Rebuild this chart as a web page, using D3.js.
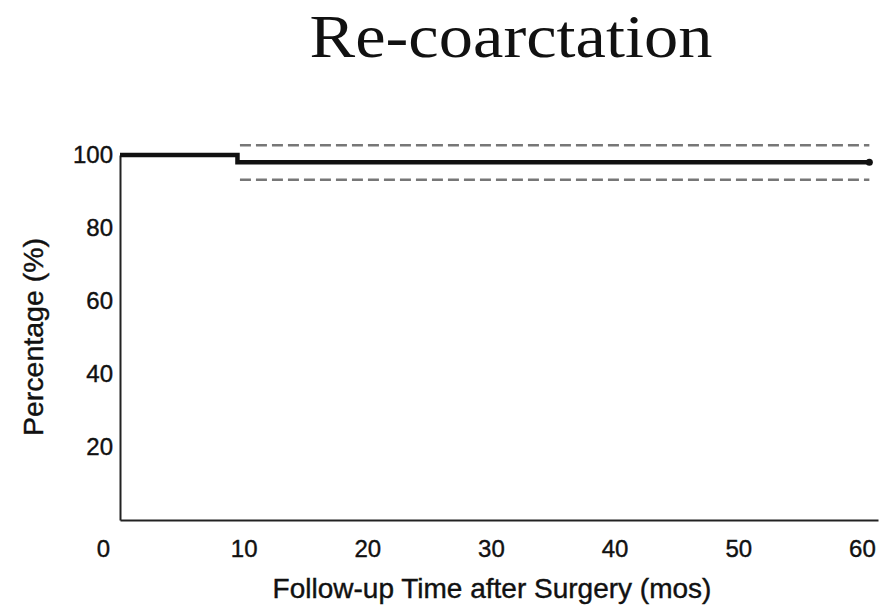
<!DOCTYPE html>
<html>
<head>
<meta charset="utf-8">
<title>Re-coarctation</title>
<script src="https://d3js.org/d3.v7.min.js"></script>
<style>
  body { margin: 0; background: #fff; }
  svg text { font-family: "Liberation Sans", Arial, sans-serif; fill: #111; }
  .lbl { stroke: #111; stroke-width: 0.4px; }
</style>
</head>
<body>
<div id="chart"></div>
<script>
// freedom from re-coarctation
var curveMonths = [0, 9.5, 60.6];
var curvePercent = [100, 98, 98];
var ciMonths = [9.7, 60.6];
var ciUpper = [102.7, 102.7];
var ciLower = [93.2, 93.2];
var xTicks = [0, 10, 20, 30, 40, 50, 60];
var yTicks = [20, 40, 60, 80, 100];

var width = 890, height = 610;

var svg = d3.select("#chart").append("svg")
    .attr("width", width)
    .attr("height", height);

var x = d3.scaleLinear().domain([0, 61.3]).range([120, 878]);
var y = d3.scaleLinear().domain([0, 100]).range([520, 155]);

// title
svg.append("text")
    .attr("x", 511)
    .attr("y", 57)
    .attr("text-anchor", "middle")
    .style("font-family", "'Liberation Serif', 'DejaVu Serif', serif")
    .style("font-size", "61px")
    .attr("textLength", 403)
    .attr("lengthAdjust", "spacingAndGlyphs")
    .text("Re-coarctation");

// axes
var xAxis = svg.append("g")
    .attr("transform", "translate(0," + y(0) + ")")
    .call(d3.axisBottom(x).tickValues(xTicks).tickSize(0).tickPadding(20));
xAxis.select(".domain").attr("stroke", "#222").attr("stroke-width", 2);
xAxis.selectAll(".tick text")
    .attr("class", "lbl")
    .style("font-size", "24px")
    .attr("dx", function(d) { return d === 0 ? -17 : 0; });

var yAxis = svg.append("g")
    .attr("transform", "translate(" + x(0) + ",0)")
    .call(d3.axisLeft(y).tickValues(yTicks).tickSize(0).tickPadding(7));
yAxis.select(".domain").attr("stroke", "#222").attr("stroke-width", 2);
yAxis.selectAll(".tick text")
    .attr("class", "lbl")
    .style("font-size", "24px");

// axis titles
svg.append("text")
    .attr("class", "lbl")
    .attr("x", 492)
    .attr("y", 598)
    .attr("text-anchor", "middle")
    .style("font-size", "28px")
    .text("Follow-up Time after Surgery (mos)");

svg.append("text")
    .attr("class", "lbl")
    .attr("transform", "translate(43,337) rotate(-90)")
    .attr("text-anchor", "middle")
    .style("font-size", "28px")
    .attr("textLength", 198)
    .attr("lengthAdjust", "spacingAndGlyphs")
    .text("Percentage (%)");

// confidence limits
var ciLine = d3.line()
    .x(function(d) { return x(d[0]); })
    .y(function(d) { return y(d[1]); });

[ciUpper, ciLower].forEach(function(vals) {
  svg.append("path")
      .datum(ciMonths.map(function(m, i) { return [m, vals[i]]; }))
      .attr("fill", "none")
      .attr("stroke", "#777")
      .attr("stroke-width", 2.5)
      .attr("stroke-dasharray", "11,5")
      .attr("d", ciLine);
});

// step curve
var stepLine = d3.line()
    .x(function(d) { return x(d[0]); })
    .y(function(d) { return y(d[1]); })
    .curve(d3.curveStepAfter);

svg.append("path")
    .datum(curveMonths.map(function(m, i) { return [m, curvePercent[i]]; }))
    .attr("fill", "none")
    .attr("stroke", "#111")
    .attr("stroke-width", 4.5)
    .attr("d", stepLine);

svg.append("circle")
    .attr("cx", x(curveMonths[curveMonths.length - 1]))
    .attr("cy", y(curvePercent[curvePercent.length - 1]))
    .attr("r", 3.5)
    .attr("fill", "#111");
</script>
</body>
</html>
